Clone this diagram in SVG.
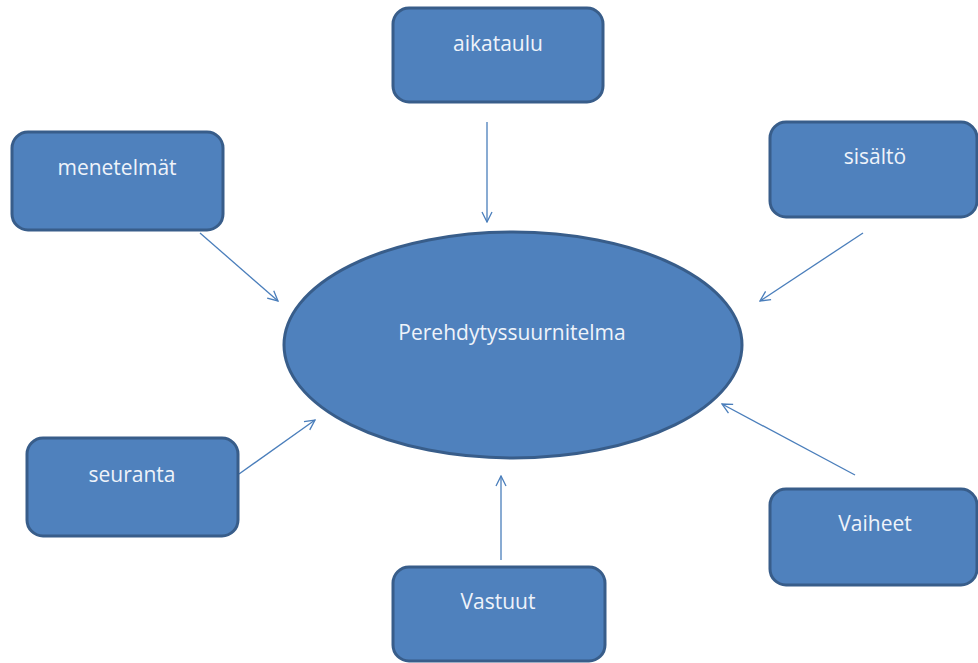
<svg xmlns="http://www.w3.org/2000/svg" width="978" height="663" viewBox="0 0 978 663">
<style>
.box{fill:#4F81BD;stroke:#385D8A;stroke-width:3}
.lbl{font-family:"Open Sans","Liberation Sans",Arial,sans-serif;font-size:21px;fill:#EEF3FA;text-anchor:middle}
.conn{stroke:#4A7EBB;stroke-width:1.3;fill:none;marker-end:url(#arr)}
</style>
<defs>
<marker id="arr" viewBox="0 0 12 12" refX="11" refY="6" markerWidth="12" markerHeight="12" markerUnits="userSpaceOnUse" orient="auto">
<path d="M1,1 L11,6 L1,11" fill="none" stroke="#4A7EBB" stroke-width="1.3"/>
</marker>
</defs>
<rect width="978" height="663" fill="#FFFFFF"/>
<g id="connectors">
<line class="conn" x1="487" y1="122" x2="487" y2="222"/>
<line class="conn" x1="200" y1="233" x2="278" y2="301"/>
<line class="conn" x1="863" y1="233" x2="760" y2="301"/>
<line class="conn" x1="239" y1="474" x2="315" y2="420"/>
<line class="conn" x1="855" y1="475" x2="722" y2="404"/>
<line class="conn" x1="501" y1="560" x2="501" y2="476"/>
</g>
<g id="center">
<ellipse class="box" cx="513" cy="345" rx="229" ry="113"/>
<text class="lbl" x="512" y="340">Perehdytyssuurnitelma</text>
</g>
<g id="aikataulu">
<rect class="box" x="393" y="8" width="210" height="94" rx="16"/>
<text class="lbl" x="498" y="51">aikataulu</text>
</g>
<g id="menetelmat">
<rect class="box" x="12" y="132" width="211" height="98" rx="16"/>
<text class="lbl" x="117" y="175">menetelmät</text>
</g>
<g id="sisalto">
<rect class="box" x="770" y="122" width="207" height="95" rx="16"/>
<text class="lbl" x="875" y="164">sisältö</text>
</g>
<g id="seuranta">
<rect class="box" x="27" y="438" width="211" height="98" rx="16"/>
<text class="lbl" x="132" y="482">seuranta</text>
</g>
<g id="vaiheet">
<rect class="box" x="770" y="489" width="207" height="96" rx="16"/>
<text class="lbl" x="875" y="531">Vaiheet</text>
</g>
<g id="vastuut">
<rect class="box" x="393" y="567" width="212" height="94" rx="16"/>
<text class="lbl" x="498" y="609">Vastuut</text>
</g>
</svg>
